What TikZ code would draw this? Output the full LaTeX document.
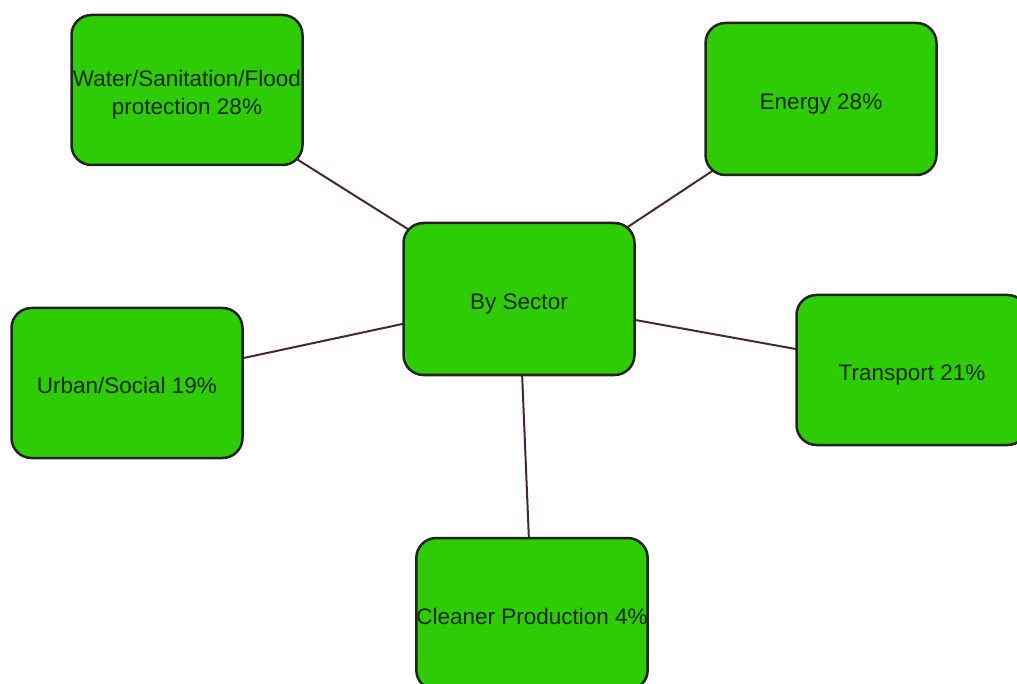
\documentclass[tikz,border=0pt]{standalone}
\usepackage{fontspec}
\setmainfont{Liberation Sans}
\usetikzlibrary{backgrounds}
\definecolor{boxgreen}{RGB}{46,204,4}
\definecolor{boxline}{RGB}{34,34,34}
\definecolor{linkline}{RGB}{70,38,58}
\definecolor{txt}{RGB}{30,40,20}
\newcommand{\lowtxt}[1]{\raisebox{-5pt}[\height][\depth]{\begin{tabular}{@{}c@{}}#1\end{tabular}}}
\tikzset{
  secbox/.style={draw=boxline, line width=2.5pt, fill=boxgreen, rounded corners=20pt,
    minimum width=231pt, minimum height=150pt, inner sep=0pt, align=center,
    text=txt, font=\fontsize{22.5pt}{28pt}\selectfont},
  link/.style={draw=linkline, line width=2pt}
}
\begin{document}
\begin{tikzpicture}[x=1pt,y=-1pt]
\useasboundingbox (0,0) rectangle (1017,684);
\clip (0,0) rectangle (1017,684);
\node[secbox] (water) at (187,90) {\lowtxt{Water/Sanitation/Flood\\protection 28\%}};
\node[secbox, minimum height=152pt] (energy) at (821,99) {\lowtxt{Energy 28\%}};
\node[secbox, minimum height=152pt] (sector) at (519,299) {\lowtxt{By Sector}};
\node[secbox] (urban) at (127,383) {\lowtxt{Urban/Social 19\%}};
\node[secbox] (transport) at (912,370) {\lowtxt{Transport 21\%}};
\node[secbox, minimum height=152pt] (cleaner) at (532,614) {\lowtxt{Cleaner Production 4\%}};
\begin{scope}[on background layer]
\draw[link] (sector.center) -- (water.center);
\draw[link] (sector.center) -- (energy.center);
\draw[link] (sector.center) -- (urban.center);
\draw[link] (sector.center) -- (transport.center);
\draw[link] (sector.center) -- (cleaner.center);
\end{scope}
\end{tikzpicture}
\end{document}
